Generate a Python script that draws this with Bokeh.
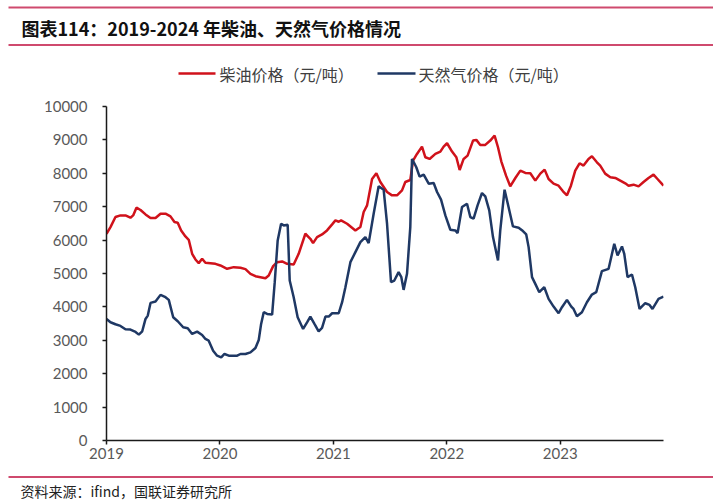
from bokeh.plotting import figure
from bokeh.models import Range1d, FixedTicker
from bokeh.layouts import column
from bokeh.embed import file_html
from bokeh.resources import INLINE
from bokeh.core.properties import value

# ---------------- data ----------------
title_text = "图表114：2019-2024 年柴油、天然气价格情况"
source_text = "资料来源：ifind，国联证券研究所"
series_names = ["柴油价格（元/吨）", "天然气价格（元/吨）"]

x_ticks = [2019, 2020, 2021, 2022, 2023]
x_tick_labels = ["2019", "2020", "2021", "2022", "2023"]
y_ticks = [0, 1000, 2000, 3000, 4000, 5000, 6000, 7000, 8000, 9000, 10000]

# time expressed as decimal years
diesel_t = [2019.000, 2019.035, 2019.079, 2019.123, 2019.167, 2019.211, 2019.235, 2019.264,
            2019.300, 2019.344, 2019.388, 2019.432, 2019.476, 2019.520, 2019.564, 2019.599,
            2019.628, 2019.658, 2019.696, 2019.725, 2019.755, 2019.784, 2019.813, 2019.843,
            2019.872, 2019.916, 2019.960, 2020.004, 2020.063, 2020.122, 2020.181, 2020.225,
            2020.269, 2020.313, 2020.357, 2020.401, 2020.430, 2020.469, 2020.504, 2020.548,
            2020.592, 2020.650, 2020.694, 2020.753, 2020.797, 2020.821, 2020.856, 2020.900,
            2020.944, 2020.989, 2021.018, 2021.047, 2021.068, 2021.121, 2021.194, 2021.238,
            2021.267, 2021.297, 2021.341, 2021.379, 2021.414, 2021.473, 2021.517, 2021.561,
            2021.605, 2021.634, 2021.678, 2021.702, 2021.737, 2021.781, 2021.811, 2021.848,
            2021.899, 2021.943, 2021.972, 2022.002, 2022.046, 2022.084, 2022.113, 2022.148,
            2022.183, 2022.231, 2022.260, 2022.295, 2022.339, 2022.383, 2022.421, 2022.451,
            2022.480, 2022.522, 2022.559, 2022.604, 2022.648, 2022.692, 2022.736, 2022.780,
            2022.824, 2022.862, 2022.897, 2022.941, 2022.985, 2023.024, 2023.059, 2023.094,
            2023.132, 2023.170, 2023.205, 2023.249, 2023.279, 2023.323, 2023.352, 2023.396,
            2023.441, 2023.485, 2023.529, 2023.573, 2023.602, 2023.646, 2023.690, 2023.734,
            2023.778, 2023.822, 2023.857, 2023.910]
diesel_v = [6190, 6390, 6690, 6740, 6740, 6670, 6740, 6970,
            6900, 6770, 6660, 6660, 6790, 6790, 6710, 6540,
            6520, 6290, 6110, 6010, 5590, 5420, 5310, 5440,
            5320, 5310, 5290, 5240, 5140, 5190, 5170, 5130,
            4990, 4920, 4890, 4860, 4940, 5220, 5340, 5360,
            5290, 5270, 5590, 6190, 6040, 5910, 6090, 6170,
            6290, 6470, 6590, 6550, 6590, 6490, 6290, 6390,
            6840, 7040, 7830, 8000, 7740, 7440, 7340, 7340,
            7490, 7740, 7800, 8380, 8580, 8800, 8480, 8430,
            8580, 8650, 8800, 8900, 8650, 8480, 8100, 8430,
            8530, 8980, 9000, 8850, 8850, 8980, 9130, 8780,
            8360, 7930, 7610, 7860, 8080, 8010, 8000, 7780,
            7990, 8110, 7830, 7690, 7630, 7460, 7340, 7630,
            8080, 8300, 8230, 8430, 8510, 8330, 8230, 7990,
            7880, 7860, 7780, 7700, 7630, 7660, 7610, 7740,
            7860, 7960, 7830, 7630]

gas_t = [2019.000, 2019.035, 2019.079, 2019.123, 2019.167, 2019.211, 2019.256, 2019.285,
         2019.315, 2019.344, 2019.364, 2019.388, 2019.432, 2019.476, 2019.520, 2019.549,
         2019.588, 2019.628, 2019.676, 2019.716, 2019.755, 2019.799, 2019.843, 2019.872,
         2019.901, 2019.940, 2019.975, 2020.011, 2020.040, 2020.078, 2020.152, 2020.181,
         2020.225, 2020.269, 2020.313, 2020.342, 2020.363, 2020.386, 2020.416, 2020.460,
         2020.483, 2020.509, 2020.539, 2020.562, 2020.597, 2020.615, 2020.650, 2020.685,
         2020.733, 2020.768, 2020.797, 2020.833, 2020.870, 2020.900, 2020.930, 2020.959,
         2020.989, 2021.047, 2021.077, 2021.106, 2021.150, 2021.194, 2021.238, 2021.282,
         2021.311, 2021.355, 2021.399, 2021.443, 2021.473, 2021.508, 2021.537, 2021.575,
         2021.599, 2021.619, 2021.649, 2021.678, 2021.693, 2021.731, 2021.760, 2021.796,
         2021.840, 2021.884, 2021.914, 2021.949, 2021.987, 2022.031, 2022.075, 2022.095,
         2022.134, 2022.178, 2022.207, 2022.236, 2022.271, 2022.310, 2022.339, 2022.374,
         2022.407, 2022.451, 2022.471, 2022.509, 2022.544, 2022.583, 2022.633, 2022.671,
         2022.700, 2022.721, 2022.751, 2022.780, 2022.815, 2022.859, 2022.897, 2022.941,
         2022.985, 2023.015, 2023.059, 2023.097, 2023.117, 2023.147, 2023.191, 2023.235,
         2023.279, 2023.317, 2023.367, 2023.426, 2023.476, 2023.505, 2023.544, 2023.564,
         2023.593, 2023.632, 2023.661, 2023.699, 2023.749, 2023.787, 2023.813, 2023.866,
         2023.910]
gas_v = [3640, 3540, 3480, 3430, 3330, 3320, 3250, 3170,
         3270, 3640, 3740, 4120, 4160, 4360, 4290, 4210,
         3690, 3570, 3390, 3360, 3190, 3260, 3160, 3040,
         2990, 2690, 2540, 2490, 2590, 2540, 2540, 2590,
         2590, 2640, 2770, 3010, 3490, 3840, 3790, 3770,
         4740, 5990, 6490, 6440, 6460, 4790, 4290, 3690,
         3340, 3540, 3710, 3490, 3270, 3370, 3710, 3710,
         3810, 3810, 4140, 4590, 5340, 5640, 5940, 6090,
         5910, 6790, 7610, 7510, 6490, 4740, 4790, 5040,
         4890, 4510, 4990, 6390, 8430, 8180, 7900, 7960,
         7690, 7710, 7440, 7210, 6740, 6310, 6290, 6210,
         6990, 7090, 6690, 6640, 7040, 7410, 7310, 6890,
         6090, 5390, 6290, 7510, 6990, 6410, 6370, 6270,
         6170, 5790, 4890, 4690, 4440, 4590, 4240, 4010,
         3810, 3990, 4210, 4010, 3940, 3720, 3840, 4140,
         4370, 4440, 5070, 5140, 5890, 5540, 5810, 5590,
         4890, 4970, 4590, 3940, 4110, 4060, 3940, 4240,
         4310]

# ---------------- style ----------------
W = 713
RED = "#d0121b"
BLUE = "#1f3864"
RULE = "#cf4a6e"
CJK = value("Noto Sans CJK SC")


def strip_fig(h):
    f = figure(width=W, height=h, x_range=Range1d(0, W), y_range=Range1d(h, 0),
               x_axis_type=None, y_axis_type=None, toolbar_location=None,
               output_backend="svg", min_border=0, frame_align=False)
    f.outline_line_color = None
    f.background_fill_color = "white"
    return f


# header: rules, title and legend
HDR = 95
header = strip_fig(HDR)
header.segment(x0=[8, 8], y0=[7, 44.5], x1=[W, W], y1=[7, 44.5],
               line_color=RULE, line_width=2)
header.text(x=[21], y=[27], text=[title_text], text_font=CJK,
            text_font_size="18px", text_font_style="bold",
            text_baseline="middle", text_align="left", text_color="#111111")
# legend (drawn in the header strip)
header.segment(x0=[178, 377], y0=[73, 73], x1=[215, 415], y1=[73, 73],
               line_color=[RED, BLUE], line_width=2.5)
header.text(x=[219, 418], y=[73, 73], text=series_names, text_font=CJK,
            text_font_size="16px", text_baseline="middle", text_align="left",
            text_color="#404040")

# main chart: frame from x 106..663, y 106..440
MAIN = 375
p = figure(width=W, height=MAIN, x_range=Range1d(2019, 2023.91),
           y_range=Range1d(0, 10000), toolbar_location=None, output_backend="svg",
           min_border_left=106, min_border_right=W - 663, min_border_top=106 - HDR,
           min_border_bottom=HDR + MAIN - 440, frame_align=False)
p.outline_line_color = None
p.grid.visible = False

p.line(diesel_t, diesel_v, line_color=RED, line_width=2.5)
p.line(gas_t, gas_v, line_color=BLUE, line_width=2.5)

p.xaxis.ticker = FixedTicker(ticks=x_ticks)
p.xaxis.major_label_overrides = {t: l for t, l in zip(x_ticks, x_tick_labels)}
p.yaxis.ticker = FixedTicker(ticks=y_ticks)
p.axis.axis_line_color = "#1a1a1a"
p.axis.axis_line_width = 1.5
p.axis.major_tick_line_color = "#1a1a1a"
p.axis.major_tick_line_width = 1.5
p.axis.major_tick_in = 0
p.axis.major_tick_out = 4
p.axis.minor_tick_in = 0
p.axis.minor_tick_out = 0
p.axis.major_label_text_font = "Lato"
p.axis.major_label_text_font_size = "15px"
p.axis.major_label_text_color = "#595959"
p.yaxis.major_label_standoff = 15
p.xaxis.major_label_standoff = 3

# footer: rule + source
FTR = 500 - HDR - MAIN
footer = strip_fig(FTR)
footer.segment(x0=[8], y0=[476.5 - HDR - MAIN], x1=[W], y1=[476.5 - HDR - MAIN],
               line_color=RULE, line_width=2)
footer.text(x=[20], y=[490 - HDR - MAIN], text=[source_text], text_font=CJK,
            text_font_size="14px", text_baseline="middle", text_align="left",
            text_color="#222222")

layout = column(header, p, footer, spacing=0)
open("out.html", "w").write(file_html(layout, INLINE))
